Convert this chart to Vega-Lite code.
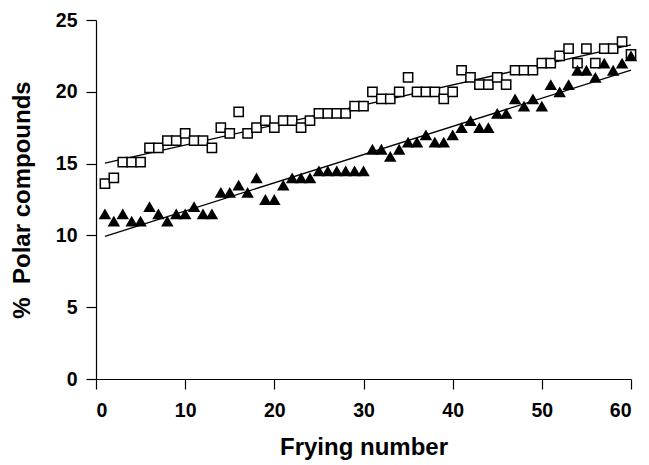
{
  "$schema": "https://vega.github.io/schema/vega-lite/v6.json",
  "autosize": "none",
  "width": 535,
  "height": 359,
  "padding": {"left": 96, "top": 20, "right": 18, "bottom": 86},
  "background": "white",
  "config": {
    "view": {"stroke": null},
    "font": "Liberation Sans",
    "axis": {
      "grid": false,
      "domainColor": "black",
      "domainWidth": 1.2,
      "tickColor": "black",
      "tickWidth": 1.2,
      "tickSize": 10,
      "labelFont": "Liberation Sans",
      "labelFontWeight": "bold",
      "labelFontSize": 19.5,
      "labelColor": "black",
      "titleFont": "Liberation Sans",
      "titleFontWeight": "bold",
      "titleFontSize": 24,
      "titleColor": "black"
    }
  },
  "data": {
    "values": [
      {"n": 1, "value": 13.6, "series": "squares"},
      {"n": 2, "value": 14.0, "series": "squares"},
      {"n": 3, "value": 15.1, "series": "squares"},
      {"n": 4, "value": 15.1, "series": "squares"},
      {"n": 5, "value": 15.1, "series": "squares"},
      {"n": 6, "value": 16.1, "series": "squares"},
      {"n": 7, "value": 16.1, "series": "squares"},
      {"n": 8, "value": 16.6, "series": "squares"},
      {"n": 9, "value": 16.6, "series": "squares"},
      {"n": 10, "value": 17.1, "series": "squares"},
      {"n": 11, "value": 16.6, "series": "squares"},
      {"n": 12, "value": 16.6, "series": "squares"},
      {"n": 13, "value": 16.1, "series": "squares"},
      {"n": 14, "value": 17.5, "series": "squares"},
      {"n": 15, "value": 17.1, "series": "squares"},
      {"n": 16, "value": 18.6, "series": "squares"},
      {"n": 17, "value": 17.1, "series": "squares"},
      {"n": 18, "value": 17.5, "series": "squares"},
      {"n": 19, "value": 18.0, "series": "squares"},
      {"n": 20, "value": 17.5, "series": "squares"},
      {"n": 21, "value": 18.0, "series": "squares"},
      {"n": 22, "value": 18.0, "series": "squares"},
      {"n": 23, "value": 17.5, "series": "squares"},
      {"n": 24, "value": 18.0, "series": "squares"},
      {"n": 25, "value": 18.5, "series": "squares"},
      {"n": 26, "value": 18.5, "series": "squares"},
      {"n": 27, "value": 18.5, "series": "squares"},
      {"n": 28, "value": 18.5, "series": "squares"},
      {"n": 29, "value": 19.0, "series": "squares"},
      {"n": 30, "value": 19.0, "series": "squares"},
      {"n": 31, "value": 20.0, "series": "squares"},
      {"n": 32, "value": 19.5, "series": "squares"},
      {"n": 33, "value": 19.5, "series": "squares"},
      {"n": 34, "value": 20.0, "series": "squares"},
      {"n": 35, "value": 21.0, "series": "squares"},
      {"n": 36, "value": 20.0, "series": "squares"},
      {"n": 37, "value": 20.0, "series": "squares"},
      {"n": 38, "value": 20.0, "series": "squares"},
      {"n": 39, "value": 19.5, "series": "squares"},
      {"n": 40, "value": 20.0, "series": "squares"},
      {"n": 41, "value": 21.5, "series": "squares"},
      {"n": 42, "value": 21.0, "series": "squares"},
      {"n": 43, "value": 20.5, "series": "squares"},
      {"n": 44, "value": 20.5, "series": "squares"},
      {"n": 45, "value": 21.0, "series": "squares"},
      {"n": 46, "value": 20.5, "series": "squares"},
      {"n": 47, "value": 21.5, "series": "squares"},
      {"n": 48, "value": 21.5, "series": "squares"},
      {"n": 49, "value": 21.5, "series": "squares"},
      {"n": 50, "value": 22.0, "series": "squares"},
      {"n": 51, "value": 22.0, "series": "squares"},
      {"n": 52, "value": 22.5, "series": "squares"},
      {"n": 53, "value": 23.0, "series": "squares"},
      {"n": 54, "value": 22.0, "series": "squares"},
      {"n": 55, "value": 23.0, "series": "squares"},
      {"n": 56, "value": 22.0, "series": "squares"},
      {"n": 57, "value": 23.0, "series": "squares"},
      {"n": 58, "value": 23.0, "series": "squares"},
      {"n": 59, "value": 23.5, "series": "squares"},
      {"n": 60, "value": 22.6, "series": "squares"},
      {"n": 1, "value": 11.5, "series": "triangles"},
      {"n": 2, "value": 11.0, "series": "triangles"},
      {"n": 3, "value": 11.5, "series": "triangles"},
      {"n": 4, "value": 11.0, "series": "triangles"},
      {"n": 5, "value": 11.0, "series": "triangles"},
      {"n": 6, "value": 12.0, "series": "triangles"},
      {"n": 7, "value": 11.5, "series": "triangles"},
      {"n": 8, "value": 11.0, "series": "triangles"},
      {"n": 9, "value": 11.5, "series": "triangles"},
      {"n": 10, "value": 11.5, "series": "triangles"},
      {"n": 11, "value": 12.0, "series": "triangles"},
      {"n": 12, "value": 11.5, "series": "triangles"},
      {"n": 13, "value": 11.5, "series": "triangles"},
      {"n": 14, "value": 13.0, "series": "triangles"},
      {"n": 15, "value": 13.0, "series": "triangles"},
      {"n": 16, "value": 13.5, "series": "triangles"},
      {"n": 17, "value": 13.0, "series": "triangles"},
      {"n": 18, "value": 14.0, "series": "triangles"},
      {"n": 19, "value": 12.5, "series": "triangles"},
      {"n": 20, "value": 12.5, "series": "triangles"},
      {"n": 21, "value": 13.5, "series": "triangles"},
      {"n": 22, "value": 14.0, "series": "triangles"},
      {"n": 23, "value": 14.0, "series": "triangles"},
      {"n": 24, "value": 14.0, "series": "triangles"},
      {"n": 25, "value": 14.5, "series": "triangles"},
      {"n": 26, "value": 14.5, "series": "triangles"},
      {"n": 27, "value": 14.5, "series": "triangles"},
      {"n": 28, "value": 14.5, "series": "triangles"},
      {"n": 29, "value": 14.5, "series": "triangles"},
      {"n": 30, "value": 14.5, "series": "triangles"},
      {"n": 31, "value": 16.0, "series": "triangles"},
      {"n": 32, "value": 16.0, "series": "triangles"},
      {"n": 33, "value": 15.5, "series": "triangles"},
      {"n": 34, "value": 16.0, "series": "triangles"},
      {"n": 35, "value": 16.5, "series": "triangles"},
      {"n": 36, "value": 16.5, "series": "triangles"},
      {"n": 37, "value": 17.0, "series": "triangles"},
      {"n": 38, "value": 16.5, "series": "triangles"},
      {"n": 39, "value": 16.5, "series": "triangles"},
      {"n": 40, "value": 17.0, "series": "triangles"},
      {"n": 41, "value": 17.5, "series": "triangles"},
      {"n": 42, "value": 18.0, "series": "triangles"},
      {"n": 43, "value": 17.5, "series": "triangles"},
      {"n": 44, "value": 17.5, "series": "triangles"},
      {"n": 45, "value": 18.5, "series": "triangles"},
      {"n": 46, "value": 18.5, "series": "triangles"},
      {"n": 47, "value": 19.5, "series": "triangles"},
      {"n": 48, "value": 19.0, "series": "triangles"},
      {"n": 49, "value": 19.5, "series": "triangles"},
      {"n": 50, "value": 19.0, "series": "triangles"},
      {"n": 51, "value": 20.5, "series": "triangles"},
      {"n": 52, "value": 20.0, "series": "triangles"},
      {"n": 53, "value": 20.5, "series": "triangles"},
      {"n": 54, "value": 21.5, "series": "triangles"},
      {"n": 55, "value": 21.5, "series": "triangles"},
      {"n": 56, "value": 21.0, "series": "triangles"},
      {"n": 57, "value": 22.0, "series": "triangles"},
      {"n": 58, "value": 21.5, "series": "triangles"},
      {"n": 59, "value": 22.0, "series": "triangles"},
      {"n": 60, "value": 22.5, "series": "triangles"}
    ]
  },
  "encoding": {
    "x": {
      "field": "n",
      "type": "quantitative",
      "scale": {"domain": [0, 60], "nice": false, "zero": false},
      "axis": {"values": [0, 10, 20, 30, 40, 50, 60], "title": "Frying number", "labelPadding": 12, "titlePadding": 16}
    },
    "y": {
      "field": "value",
      "type": "quantitative",
      "scale": {"domain": [0, 25], "nice": false},
      "axis": {"values": [0, 5, 10, 15, 20, 25], "title": "%\u00a0\u00a0Polar compounds", "labelPadding": 9, "titlePadding": 21}
    }
  },
  "layer": [
    {
      "transform": [{"regression": "value", "on": "n", "groupby": ["series"]}],
      "mark": {"type": "line", "color": "black", "strokeWidth": 1.3},
      "encoding": {"detail": {"field": "series"}}
    },
    {
      "transform": [{"filter": "datum.series === 'squares'"}],
      "mark": {"type": "point", "shape": "square", "size": 85, "filled": true, "fill": "white", "stroke": "black", "strokeWidth": 1.5, "opacity": 1}
    },
    {
      "transform": [{"filter": "datum.series === 'triangles'"}],
      "mark": {"type": "point", "shape": "triangle-up", "size": 155, "filled": true, "fill": "black", "stroke": null, "opacity": 1}
    }
  ]
}
